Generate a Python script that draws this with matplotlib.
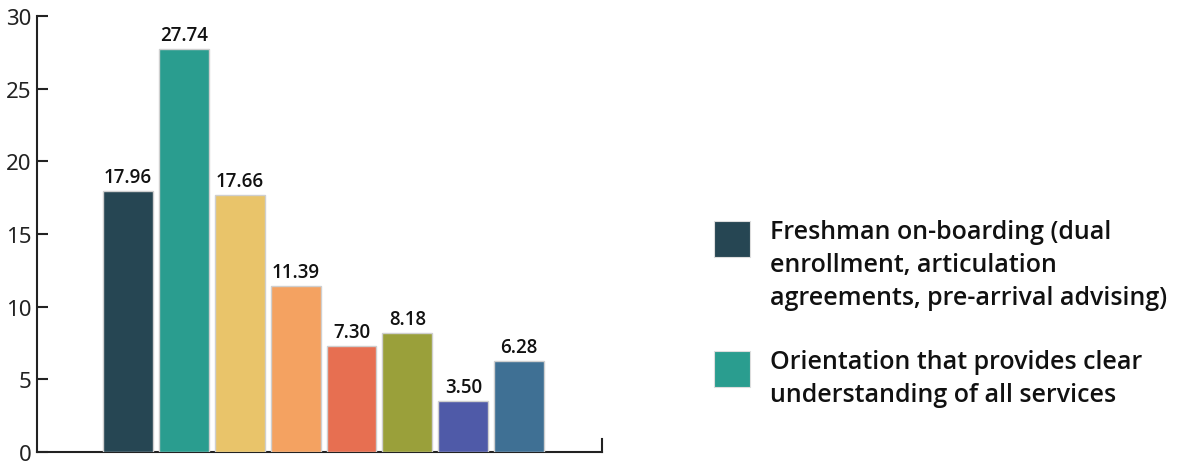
import numpy as np
import matplotlib
matplotlib.use("Agg")
import matplotlib.pyplot as plt
from matplotlib.patches import Rectangle

# 데이터
values = [17.96, 27.74, 17.66, 11.39, 7.30, 8.18, 3.50, 6.28]
colors = ['#264653', '#2a9d8f', '#e9c46a', '#f4a261', '#e76f51', '#9aa03a', '#4f5aa8', '#3f7094']
legend_labels = ['Freshman on-boarding (dual\nenrollment, articulation\nagreements, pre-arrival advising)',
                 'Orientation that provides clear\nunderstanding of all services']
yticks = [0, 5, 10, 15, 20, 25, 30]

plt.rcParams['font.family'] = ['Open Sans', 'Noto Sans', 'DejaVu Sans']

fig = plt.figure(figsize=(11.87, 4.64), dpi=100)
ax = fig.add_axes([37 / 1187, 11 / 464, 565 / 1187, 436 / 464])

x = np.arange(len(values))
bars = ax.bar(x, values, width=0.893, color=colors, edgecolor='#cfcfcf', linewidth=1, zorder=3)

# 값 라벨
for xi, v in zip(x, values):
    ax.annotate(f'{v:.2f}', (xi, v), xytext=(0, 3), textcoords='offset points',
                ha='center', va='bottom', fontsize=13.5, fontweight='semibold', color='#111111')

ax.set_xlim(-1.625, 8.48)
ax.set_ylim(0, 30)
ax.set_yticks(yticks)
ax.set_xticks([])
ax.tick_params(axis='y', direction='in', length=8, width=1.5, color='#222222',
               labelsize=16, labelcolor='#222222', pad=4)
for lbl in ax.get_yticklabels():
    lbl.set_fontweight('light')
    lbl.set_family(['Noto Sans', 'DejaVu Sans'])

for s in ['top', 'right']:
    ax.spines[s].set_visible(False)
for s in ['left', 'bottom']:
    ax.spines[s].set_linewidth(1.5)
    ax.spines[s].set_color('#222222')

# 오른쪽 끝 눈금
ax.plot([1, 1], [0, 0.03], transform=ax.transAxes, color='#222222', lw=1.5, clip_on=False)

# 범례 (직접 그리기)
legend_tops = [222, 352]
for top, col, lab in zip(legend_tops, colors[:2], legend_labels):
    fig.patches.append(Rectangle((714 / 1187, 1 - (top + 36) / 464), 36 / 1187, 36 / 464,
                                 transform=fig.transFigure, facecolor=col, edgecolor='#dddddd', lw=0.8))
    fig.text(770 / 1187, 1 - (top - 2) / 464, lab, ha='left', va='top', fontsize=18,
             fontweight='semibold', color='#111111', linespacing=1.42)

fig.savefig('out.png', dpi=100)
